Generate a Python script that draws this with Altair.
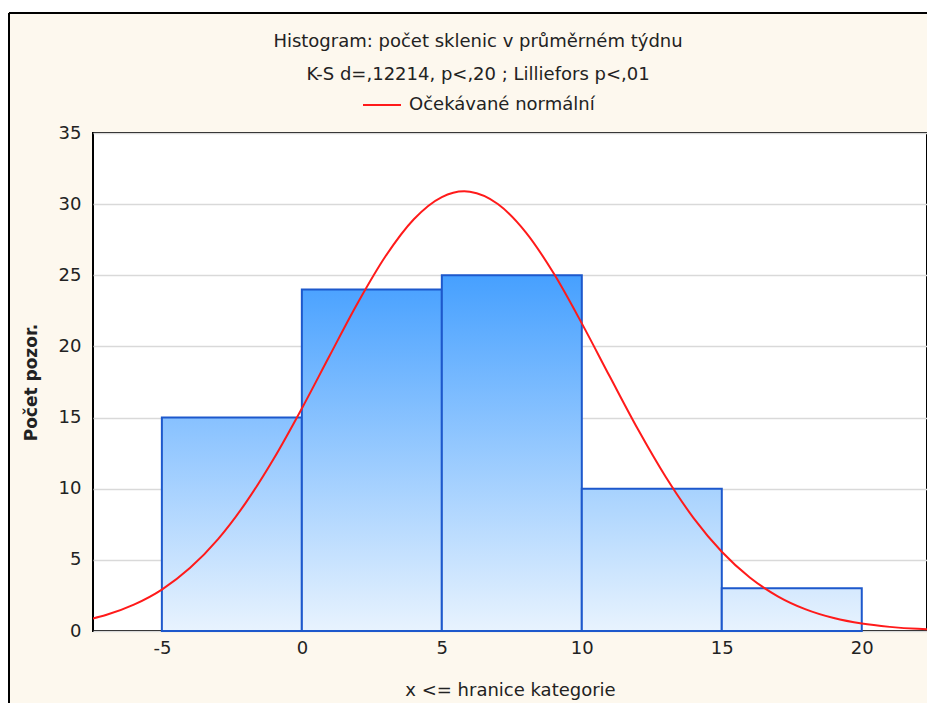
import altair as alt
import pandas as pd

# --- data ---
bin_lo = [-5, 0, 5, 10, 15]
bin_hi = [0, 5, 10, 15, 20]
counts = [15, 24, 25, 10, 3]

curve_x = [-7.5, -7, -6, -5, -4, -3, -2, -1, 0, 1, 2, 3, 4, 5, 5.8, 6, 7, 8, 9,
           10, 11, 12, 13, 14, 15, 16, 17, 18, 19, 20, 21, 22, 22.4]
curve_y = [0.86, 1.12, 1.85, 2.91, 4.42, 6.44, 9.02, 12.12, 15.64, 19.38, 23.07,
           26.37, 28.94, 30.50, 30.9, 30.87, 30.01, 28.02, 25.12, 21.62, 17.88,
           14.19, 10.82, 7.92, 5.57, 3.76, 2.44, 1.52, 0.91, 0.52, 0.29, 0.15, 0.12]

x_ticks = [-5, 0, 5, 10, 15, 20]
y_ticks = [0, 5, 10, 15, 20, 25, 30, 35]

title_lines = ["Histogram: počet sklenic v průměrném týdnu",
               "K-S d=,12214, p<,20 ; Lilliefors p<,01"]
legend_label = "Očekávané normální"
x_title = "x <= hranice kategorie"
y_title = "Počet pozor."

FONT = "DejaVu Sans"
FS = 18
TXT = "#222222"
W, H = 834, 498
PAD_L, PAD_T = 85, 125

bars = pd.DataFrame({"lo": bin_lo, "hi": bin_hi, "count": counts, "zero": [0] * len(counts)})
curve = pd.DataFrame({"x": curve_x, "y": curve_y, "series": [legend_label] * len(curve_x)})
one = pd.DataFrame({"a": [0]})

xscale = alt.Scale(domain=[-7.46, 22.33], nice=False, zero=False)
yscale = alt.Scale(domain=[0, 35], nice=False)

BOT = (232, 243, 254)
TOP = (70, 160, 255)


def shade(v):
    t = v / 25.0
    c = [round(b + (tp - b) * t) for b, tp in zip(BOT, TOP)]
    return "#%02x%02x%02x" % tuple(c)


xaxis = alt.Axis(values=x_ticks, grid=False, ticks=False, domain=False,
                 labelExpr="'' + datum.value",
                 labelFont=FONT, labelFontSize=FS, labelColor=TXT, labelPadding=8,
                 title=x_title, titleFont=FONT, titleFontSize=FS, titleFontWeight="normal",
                 titleColor=TXT, titlePadding=24)
yaxis = alt.Axis(values=y_ticks, grid=True, gridColor="#d9d9d9", gridWidth=1.5,
                 ticks=False, domain=False,
                 labelFont=FONT, labelFontSize=FS, labelColor=TXT, labelPadding=12,
                 title=y_title, titleFont=FONT, titleFontSize=17, titleFontWeight="bold",
                 titleColor=TXT, titlePadding=18)

layers = []
for i, lo in enumerate(bin_lo):
    grad = alt.Gradient(
        gradient="linear", x1=0, x2=0, y1=0, y2=1,
        stops=[alt.GradientStop(color=shade(counts[i]), offset=0),
               alt.GradientStop(color=shade(0), offset=1)])
    layers.append(
        alt.Chart(bars).transform_filter(alt.datum.lo == lo)
        .mark_rect(fill=grad, stroke="#1d58cc", strokeWidth=2)
        .encode(x=alt.X("lo:Q", scale=xscale, axis=xaxis),
                x2="hi:Q",
                y=alt.Y("count:Q", scale=yscale, axis=yaxis),
                y2="zero:Q")
    )

line = alt.Chart(curve).mark_line(color="#ff1a1a", strokeWidth=2, clip=True,
                                  interpolate="monotone").encode(
    x=alt.X("x:Q", scale=xscale, axis=xaxis),
    y=alt.Y("y:Q", scale=yscale, axis=yaxis),
    color=alt.Color("series:N",
                    scale=alt.Scale(domain=[legend_label], range=["#ff1a1a"]),
                    legend=alt.Legend(orient="none", legendX=269, legendY=-48,
                                      title=None, symbolType="stroke", symbolSize=1444,
                                      symbolStrokeWidth=2, symbolStrokeColor="#ff1a1a",
                                      labelFont=FONT, labelFontSize=FS, labelColor=TXT,
                                      labelOffset=7, labelLimit=0, padding=0)),
)

# decorative frame (white strip above, black top and left edges)
strip = alt.Chart(one).mark_rect(fill="white").encode(
    x=alt.value(-PAD_L), x2=alt.value(W + 5), y=alt.value(-PAD_T), y2=alt.value(-121))
top_edge = alt.Chart(one).mark_rule(color="black", strokeWidth=2).encode(
    x=alt.value(-PAD_L + 1), x2=alt.value(W + 5), y=alt.value(-120))
left_edge = alt.Chart(one).mark_rule(color="black", strokeWidth=2).encode(
    x=alt.value(-PAD_L + 1), y=alt.value(-120), y2=alt.value(H + 80))

chart = alt.layer(*layers, line, strip, top_edge, left_edge).properties(
    width=W, height=H,
    autosize=alt.AutoSizeParams(type="none"),
    padding={"left": PAD_L, "top": PAD_T, "right": 0, "bottom": 72},
    background="#fdf8ee",
    title=alt.TitleParams(text=title_lines, anchor="middle", font=FONT, fontSize=FS,
                          fontWeight="normal", color=TXT, lineHeight=33, dx=-32,
                          offset=0, dy=76),
).configure_view(fill="white", stroke="black", strokeWidth=2)

chart.save("out.html", embed_options={"renderer": "svg", "actions": False})
